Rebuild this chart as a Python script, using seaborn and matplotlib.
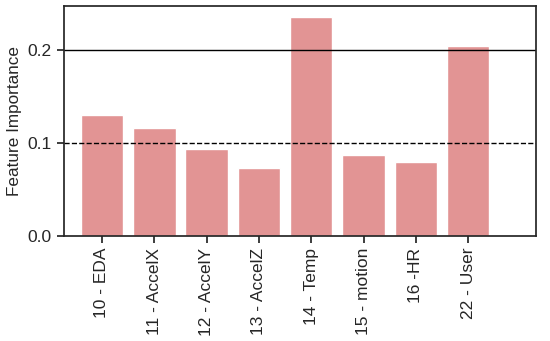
import numpy as np
import pandas as pd
import matplotlib
matplotlib.use("Agg")
import matplotlib.pyplot as plt
import seaborn as sns

features = ["10 - EDA", "11 - AccelX", "12 - AccelY", "13 - AccelZ",
            "14 - Temp", "15 - motion", "16 -HR", "22 - User"]
importance = [0.130, 0.116, 0.0935, 0.073, 0.2355, 0.087, 0.0795, 0.205]

df = pd.DataFrame({"feature": features, "importance": importance})

sns.set_style("ticks")
plt.rcParams["font.family"] = ["Liberation Sans", "DejaVu Sans"]

fig = plt.figure(figsize=(5.5, 3.41), dpi=100)
ax = fig.add_axes([0.116, 0.308, 0.859, 0.674])

sns.barplot(data=df, x="feature", y="importance", color="#e29494",
            saturation=1, width=0.81, ax=ax)

ax.axhline(0.1, color="black", linestyle="--", linewidth=1)
ax.axhline(0.2, color="black", linestyle="-", linewidth=1)

ax.set_xlim(-0.73, 8.3)
ax.set_ylim(0, 0.2475)
ax.set_yticks([0.0, 0.1, 0.2])
ax.set_xlabel("")
ax.set_ylabel("Feature Importance", fontsize=12.3)
ax.tick_params(axis="x", labelrotation=90, labelsize=12.5, length=5, width=1.25)
ax.tick_params(axis="y", labelsize=12.5, length=5, width=1.25)
for s in ax.spines.values():
    s.set_linewidth(1.25)

fig.savefig("out.png", dpi=100)
